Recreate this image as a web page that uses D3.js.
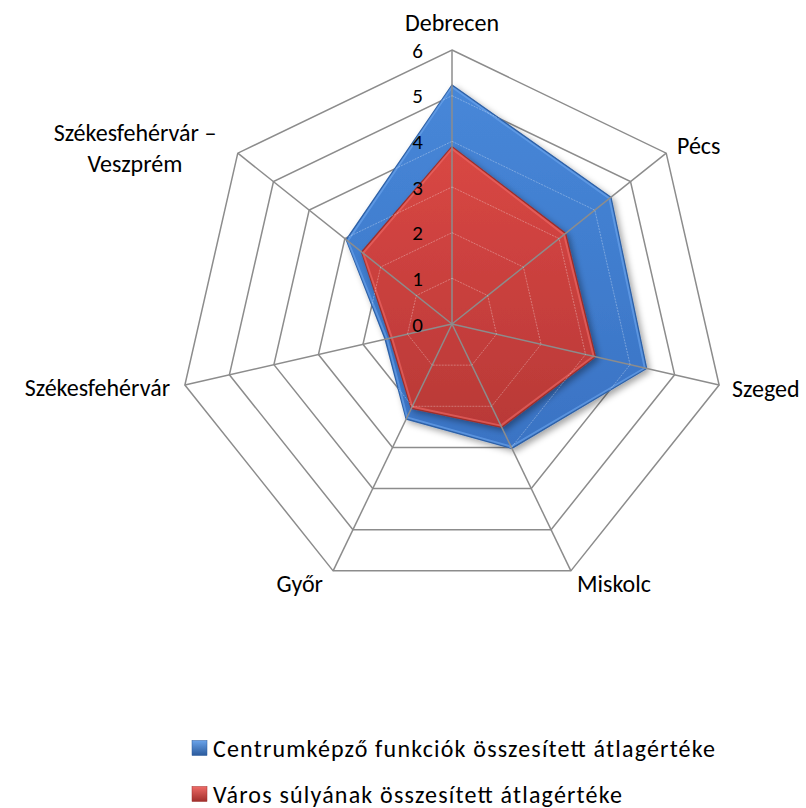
<!DOCTYPE html>
<html>
<head>
<meta charset="utf-8">
<script src="https://cdn.jsdelivr.net/npm/d3@7"></script>
<style>
  body { margin: 0; background: #fff; }
  svg text { font-family: Carlito, Lato, "Open Sans", sans-serif; fill: #000; }
</style>
</head>
<body>
<svg id="main" width="806" height="808"></svg>
<script>
// axes, clockwise from the top
var cities = ["Debrecen", "Pécs", "Szeged", "Miskolc", "Győr", "Székesfehérvár", "Székesfehérvár – Veszprém"];
var centreValues = [5.23, 4.45, 4.37, 3.02, 2.31, 1.5, 2.96];
var weightValues = [3.88, 3.18, 3.22, 2.51, 2.05, 1.39, 2.53];
var seriesNames = ["Centrumképző funkciók összesített átlagértéke", "Város súlyának összesített átlagértéke"];
var ticks = [0, 1, 2, 3, 4, 5, 6];

var svg = d3.select('svg#main');
var cx = 452, cy = 324;
var r = d3.scaleLinear().domain([0, 6]).range([0, 274]);
var angle = d3.scaleLinear().domain([0, cities.length]).range([0, 2 * Math.PI]);

function pt(i, v) {
    var a = angle(i);
    return [cx + r(v) * Math.sin(a), cy - r(v) * Math.cos(a)];
}

var defs = svg.append('defs');
function grad(id, c1, c2) {
    var g = defs.append('linearGradient').attr('id', id)
        .attr('x1', 0).attr('y1', 0).attr('x2', 0).attr('y2', 1);
    g.append('stop').attr('offset', '0%').attr('stop-color', c1);
    g.append('stop').attr('offset', '100%').attr('stop-color', c2);
}
grad('gBlue', '#4787d8', '#3a73c4');
grad('gRed', '#d94744', '#b93937');

var f = defs.append('filter').attr('id', 'shadow')
    .attr('x', '-10%').attr('y', '-10%').attr('width', '130%').attr('height', '130%');
f.append('feDropShadow').attr('dx', 3).attr('dy', 3).attr('stdDeviation', 3)
    .attr('flood-color', '#000').attr('flood-opacity', 0.35);

var radial = d3.lineRadial()
    .angle(function(d, i) { return angle(i); })
    .radius(function(d) { return r(d); })
    .curve(d3.curveLinearClosed);

var g = svg.append('g').attr('transform', 'translate(' + cx + ',' + cy + ')');

// grid rings (behind)
var rings = ticks.slice(1);
g.selectAll('path.ring').data(rings).join('path')
    .attr('class', 'ring')
    .attr('d', function(t) { return radial(cities.map(function() { return t; })); })
    .attr('fill', 'none').attr('stroke', '#8c8c8c').attr('stroke-width', 1.5);

// series areas
var series = [
    { name: seriesNames[0], values: centreValues, fill: 'url(#gBlue)', edge: '#2f62a8', hi: '#6ea6ee' },
    { name: seriesNames[1], values: weightValues, fill: 'url(#gRed)', edge: '#9e2f2c', hi: '#ee6b68' }
];
series.forEach(function(s) {
    g.append('path').attr('d', radial(s.values))
        .attr('fill', s.fill).attr('stroke', s.edge).attr('stroke-width', 1.5)
        .attr('stroke-linejoin', 'round').attr('filter', 'url(#shadow)');
    g.append('path').attr('d', radial(s.values.map(function(v) { return v - 0.04; })))
        .attr('fill', 'none').attr('stroke', s.hi).attr('stroke-width', 2).attr('opacity', 0.6)
        .attr('stroke-linejoin', 'round');
});

// faint rings over the filled area
defs.append('clipPath').attr('id', 'areaClip')
    .append('path').attr('d', radial(centreValues))
    .attr('transform', 'translate(' + cx + ',' + cy + ')');
svg.append('g').attr('clip-path', 'url(#areaClip)')
    .append('g').attr('transform', 'translate(' + cx + ',' + cy + ')')
    .selectAll('path').data(rings).join('path')
    .attr('d', function(t) { return radial(cities.map(function() { return t; })); })
    .attr('fill', 'none').attr('stroke', '#fff').attr('stroke-width', 1)
    .attr('stroke-opacity', 0.3).attr('stroke-dasharray', '2,1');

// spokes on top
g.selectAll('line.spoke').data(cities).join('line')
    .attr('class', 'spoke')
    .attr('x1', 0).attr('y1', 0)
    .attr('x2', function(d, i) { return pt(i, 6)[0] - cx; })
    .attr('y2', function(d, i) { return pt(i, 6)[1] - cy; })
    .attr('stroke', '#8c8c8c').attr('stroke-width', 1.5);

// value labels along the top axis
g.selectAll('text.tick').data(ticks).join('text')
    .attr('class', 'tick')
    .attr('x', -29).attr('y', function(t) { return -r(t); })
    .attr('text-anchor', 'end').attr('dy', '0.36em')
    .style('font-size', '21px')
    .text(function(t) { return t; });

// category labels
var labelPos = [
    { x: 452, y: 22, anchor: 'middle' },
    { x: 677, y: 145, anchor: 'start' },
    { x: 732, y: 388, anchor: 'start' },
    { x: 577, y: 583, anchor: 'start' },
    { x: 323, y: 583, anchor: 'end' },
    { x: 170, y: 387, anchor: 'end' },
    { x: 135, y: 132, anchor: 'middle' }
];
cities.forEach(function(c, i) {
    var p = labelPos[i];
    var lines = c.indexOf('–') > 0 ? ['Székesfehérvár –', 'Veszprém'] : [c];
    var t = svg.append('text').attr('text-anchor', p.anchor).style('font-size', '24px');
    lines.forEach(function(l, k) {
        t.append('tspan').attr('x', p.x).attr('y', p.y + k * 31).attr('dy', '0.36em').text(l);
    });
});

// legend
var legend = svg.append('g');
var legColors = [['#6aa3ea', '#2a5a9c'], ['#ee6a66', '#a02e2b']];
var legWidths = [502, 409];
seriesNames.forEach(function(n, i) {
    var y = 748 + i * 46;
    var gi = defs.append('linearGradient').attr('id', 'lg' + i)
        .attr('x1', 0).attr('y1', 0).attr('x2', 0).attr('y2', 1);
    gi.append('stop').attr('offset', '0%').attr('stop-color', legColors[i][0]);
    gi.append('stop').attr('offset', '100%').attr('stop-color', legColors[i][1]);
    legend.append('rect').attr('x', 192).attr('y', y - 7.5).attr('width', 15).attr('height', 15)
        .attr('fill', 'url(#lg' + i + ')').attr('stroke', legColors[i][1]).attr('stroke-width', 0.5);
    legend.append('text').attr('x', 213).attr('y', y).attr('dy', '0.36em')
        .attr('textLength', legWidths[i]).attr('lengthAdjust', 'spacing')
        .style('font-size', '24px').text(n);
});
</script>
</body>
</html>
